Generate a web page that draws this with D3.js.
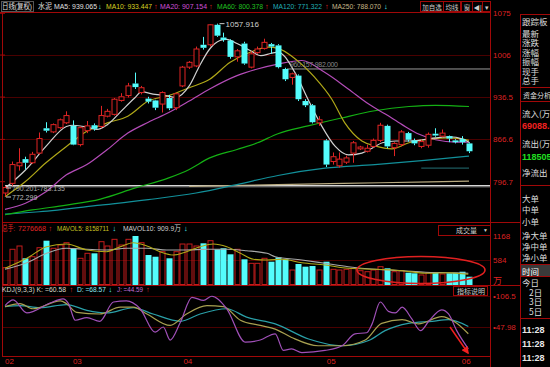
<!DOCTYPE html>
<html><head><meta charset="utf-8">
<script src="https://cdn.jsdelivr.net/npm/d3@7"></script>
<style>
body{margin:0;background:#000;}
svg{display:block;font-family:"Liberation Sans","Noto Sans CJK SC",sans-serif;}
</style></head>
<body><svg id="chart" width="550" height="367"></svg>
<script>
// daily candles
const opens  = [778,794,823,834,828,844,885,879,886,894,889,858,881,890,888,905,908,931,939,959,944,934,931,925,935,919,955,986,988,1023,1023,1056,1035,1030,1003,1025,986,1010,1017,1024,1022,983,969,972,930,923,894,865,830,823,829,844,851,847,855,865,889,853,858,877,865,855,857,876,872,872,865,867,860];
const highs  = [790,830,852,838,846,878,895,893,901,913,898,888,897,893,922,917,935,943,960,977,955,937,932,946,940,944,988,996,1020,1036,1057,1057.9,1043,1032,1016,1028,1012,1020,1033,1026,1024,985,977,974,933,925,905,867,845,845,840,864,856,858,868,894,891,862,882,879,868,866,878,885,883,873,867,872,862];
const lows   = [772.3,790,815,817,826,842,878,877,884,892,857,855,877,881,885,903,906,929,936,950,941,926,915,911,915,915,953,983,986,1015,1020,1036,1028,1000,995,990,984,1008,1015,1008,984,963,957,930,920,893,889,821,825,820,826,828,849,845,853,862,852,839,855,863,857,852,853,871,870,862,860,858,844];
const closes = [787,825,828,828,842,868,881,891,899,906,858,886,889,884,906,913,933,937,955,953,952,929,919,944,918,942,986,994,1016,1018,1056,1038,1031,1003,1013,992,1008,1016,1027,1020,986,966,975,933,923,895,899,825,838,834,836,861,854,852,865,890,855,860,879,866,860,863,875,873,877,868,862,862,847];
const volumes = [405,848,927,631,669,886,1055,872,951,1007,872,631,751,751,1031,927,1088,951,1088,1168,1007,710,669,790,631,790,975,975,927,992,1055,848,872,727,848,607,510,510,631,549,655,607,349,494,429,445,349,549,366,349,366,390,332,308,349,429,390,308,332,284,270,229,284,284,253,270,284,308,188];

// moving averages as [bar index, value]
const ma5Pts   = [[0,786],[3,816],[6,855],[9,888],[10,890],[12,887],[13.5,883],[15,891],[17,913],[19,935],[20,945],[22,941],[23.5,939],[25,936],[27,955],[28.5,988],[30,1016],[31.5,1030],[32.5,1032],[34,1025],[36,1013],[37.5,1005],[39,1009],[40,1011],[42.5,977],[44.4,933],[46.4,889],[48.4,855],[50.3,841],[52.3,844],[53.8,852],[55.3,861],[57.3,864],[59.2,864],[61.2,866],[63.1,869],[65.1,871],[67.1,867],[68,862]];
const ma10Pts  = [[0,772],[3,797],[6,828],[9,855],[12,880],[15,894],[18,905],[21,930],[24,939],[27,952],[30,966],[33,994],[36,1011],[38.6,1019],[40,1017],[42.5,1000],[45.4,969],[47.9,933],[49.8,894],[52.3,864],[54.2,856],[56.7,851],[59.2,861],[62.2,867],[65.1,869],[68,865]];
const ma20Pts  = [[0,751],[3,761],[6,780],[9,808],[12,825],[15,850],[18,877],[21,895],[24,911],[27,930],[30,950],[34,972],[37,983],[40,991],[43.5,997],[46.9,977],[50.3,950],[53.3,925],[55.8,908],[58.2,891],[60.7,875],[63.1,866],[66.1,862],[68,862]];
const ma60Pts  = [[0,742],[4,750],[9,758],[14,768],[19,786],[24,803],[27,817],[30,836],[34,850],[37,861],[40,876],[44.4,889],[49.3,902],[54.2,914],[59.2,921],[63.1,923],[68,921]];
const ma120Pts = [[0,743],[5,747],[14,758],[21,767],[28,778],[34,792],[40,807],[46.9,819],[54.2,825],[61.5,832],[68,839]];
const ma250Pts = [[27,789],[40,792],[55,795],[68,797.5]];

const volMa5Pts  = [[0,390],[3.2,631],[6.1,910],[9,975],[12,831],[14.9,790],[16.9,910],[18.8,1007],[20.8,927],[22.7,790],[24.7,710],[26.6,790],[28.6,910],[30.5,975],[32.5,910],[34.5,751],[36.4,607],[38.4,590],[40.6,607],[43.5,525],[46.9,470],[50.3,390],[54.3,366],[58.2,332],[61.6,270],[65,284],[67.9,246]];
const volMa10Pts = [[0,366],[3.2,525],[6.1,751],[9,872],[12,848],[14.9,831],[17.8,872],[20.8,872],[23.7,831],[26.6,831],[29.6,848],[32.5,848],[35.4,814],[38.4,751],[39.6,669],[43.5,590],[46.9,510],[50.3,429],[54.3,366],[58.2,332],[61.6,294],[65,284],[67.9,270]];

const kPts = [[0,86],[2.2,92],[4.1,82],[8.1,97],[9,92],[10.5,75],[13.9,72],[16.9,85],[18.8,85],[20.8,72],[24.2,50],[26.6,72],[29.6,88],[32,86],[34.5,60],[37.4,50],[39.6,43],[42,27],[45.9,11],[49.4,11],[52.8,22],[55.2,54],[58.2,61],[60.6,53],[64,67],[66,56],[67.9,34]];
const dPts = [[0,86],[2.2,88],[5.1,84],[9,90],[12,79],[14.9,74],[18.8,84],[21.7,72],[25.7,58],[28.6,72],[32.5,82],[35.4,66],[39.6,53],[44.5,24],[49.4,11],[53.3,21],[55.7,40],[59.1,54],[62.6,58],[65,61],[67.9,48]];
const jPts = [[0,88],[1.2,99],[3.2,74],[6.6,93],[8.5,101],[9.3,92],[10.3,60],[12,65],[13.9,58],[15.9,95],[17.8,97],[19.8,82],[22,37],[23.2,47],[24.2,22],[25.7,56],[27.4,104],[29.1,98],[30.3,106],[32.5,82],[35.2,18],[37.4,22],[39.6,34],[40.8,2],[42,5],[43.5,-2],[46.9,2],[49.4,11],[51.3,34],[53,36],[53.8,53],[55,95],[56.2,77],[57.2,74],[58.2,85],[59.6,63],[60.9,40],[62.1,58],[64,80],[65,72],[66.2,40],[67.9,5]];

const priceTicks = [1075, 1006, 936.5, 866.6, 796.7];
const volTicks = [1168, 584];
const kdjTicks = [106.5, 47.98];
const monthLabels = ["02", "03", "04", "05", "06"];
const monthIdx = [0, 10.6, 26.8, 47.8, 67.6];

const svg = d3.select("#chart");
const RED = "#e02424", CYAN = "#54fcfc", FRAME = "#a00808", GRID = "#4a0000";

svg.append("rect").attr("width", 550).attr("height", 367).attr("fill", "#000");

const x = d3.scaleLinear().domain([0, 68]).range([5, 469]);
const y = d3.scaleLinear().domain([796.7, 1075]).range([181.7, 13.3]);
const yv = d3.scaleLinear().domain([0, 1168]).range([284.5, 236]);
const yk = d3.scaleLinear().domain([47.98, 106.5]).range([326.5, 296]);

// grid
const grid = svg.append("g").attr("stroke", GRID).attr("stroke-width", 1);
priceTicks.slice(1, 4).forEach(t => grid.append("line").attr("x1", 3).attr("x2", 490).attr("y1", Math.round(y(t)) + .5).attr("y2", Math.round(y(t)) + .5));
grid.append("line").attr("x1", 3).attr("x2", 490).attr("y1", Math.round(yv(584)) + .5).attr("y2", Math.round(yv(584)) + .5);
kdjTicks.forEach(t => grid.append("line").attr("x1", 3).attr("x2", 490).attr("y1", Math.round(yk(t)) + .5).attr("y2", Math.round(yk(t)) + .5));

// frames
const fr = svg.append("g").attr("stroke", FRAME).attr("stroke-width", 1).attr("fill", "none");
[[2.5, 12, 2.5, 357], [490.5, 12, 490.5, 367], [520.5, 14, 520.5, 367],
 [0, 12.5, 490, 12.5], [2, 222.5, 520, 222.5], [2, 285.5, 520, 285.5], [2, 356.5, 490, 356.5]]
  .forEach(l => fr.append("line").attr("x1", l[0]).attr("y1", l[1]).attr("x2", l[2]).attr("y2", l[3]));
priceTicks.forEach(t => fr.append("line").attr("x1", 0).attr("x2", 5).attr("y1", y(t)).attr("y2", y(t)));

// clip for main panel
svg.append("clipPath").attr("id", "mainClip").append("rect").attr("x", 3).attr("y", 13).attr("width", 487).attr("height", 209);
const main = svg.append("g").attr("clip-path", "url(#mainClip)");

// drawn horizontal lines
main.append("line").attr("x1", 5).attr("x2", 490).attr("y1", y(790.2)).attr("y2", y(790.2)).attr("stroke", "#d8d8d8").attr("stroke-width", 1.2);
main.append("line").attr("x1", 5).attr("x2", 490).attr("y1", y(788.2)).attr("y2", y(788.2)).attr("stroke", "#8a8a8a").attr("stroke-width", 1);
main.append("line").attr("x1", 287).attr("x2", 490).attr("y1", y(983)).attr("y2", y(983)).attr("stroke", "#9a9a9a").attr("stroke-width", 1);
main.append("line").attr("x1", x(61)).attr("x2", x(68)).attr("y1", y(819)).attr("y2", y(819)).attr("stroke", "#1c5a5e").attr("stroke-width", 1.2);

const line = d3.line().x(d => x(d[0])).y(d => y(d[1])).curve(d3.curveMonotoneX);
[[ma250Pts, "#b8aa80"], [ma120Pts, "#12909a"], [ma60Pts, "#14b014"], [ma20Pts, "#b44cb8"], [ma10Pts, "#b0a818"], [ma5Pts, "#d0d0d0"]]
  .forEach(s => main.append("path").attr("d", line(s[0])).attr("fill", "none").attr("stroke", s[1]).attr("stroke-width", 1.2));

// candles
const idx = d3.range(opens.length);
const up = i => closes[i] >= opens[i];
const cg = main.append("g");
idx.forEach(i => {
  const c = up(i) ? RED : CYAN, cx = Math.round(x(i)) + .5;
  const top = Math.max(opens[i], closes[i]), bot = Math.min(opens[i], closes[i]);
  cg.append("line").attr("x1", cx).attr("x2", cx).attr("y1", y(highs[i])).attr("y2", y(top)).attr("stroke", c);
  cg.append("line").attr("x1", cx).attr("x2", cx).attr("y1", y(bot)).attr("y2", y(lows[i])).attr("stroke", c);
  const h = Math.max(1, y(bot) - y(top));
  if (up(i)) cg.append("rect").attr("x", cx - 2.5).attr("y", y(top)).attr("width", 5).attr("height", h).attr("fill", "#000").attr("stroke", c);
  else cg.append("rect").attr("x", cx - 3).attr("y", y(top)).attr("width", 6).attr("height", h).attr("fill", c);
});

// annotations
const hiI = highs.indexOf(d3.max(highs));
main.append("line").attr("x1", x(hiI) + 3).attr("x2", x(hiI) + 8).attr("y1", y(highs[hiI])).attr("y2", y(highs[hiI])).attr("stroke", "#ccc");
main.append("text").attr("x", x(hiI) + 9).attr("y", y(highs[hiI]) + 3).attr("fill", "#cfcfcf").attr("font-size", 8).text("1057.916");
main.append("text").attr("x", 290).attr("y", y(983) - 2).attr("fill", "#8a8a8a").attr("font-size", 7).attr("textLength", 48).text("960.157-982.000");
main.append("line").attr("x1", 6).attr("x2", 11).attr("y1", 188).attr("y2", 188).attr("stroke", "#ccc");
main.append("text").attr("x", 12).attr("y", 190.5).attr("fill", "#a8a8a8").attr("font-size", 7).attr("textLength", 53).text("790.201-783.135");
main.append("line").attr("x1", 6).attr("x2", 11).attr("y1", 197).attr("y2", 197).attr("stroke", "#ccc");
main.append("text").attr("x", 12).attr("y", 199.5).attr("fill", "#bdbdbd").attr("font-size", 7).text("772.299");

// price axis labels
svg.append("g").selectAll("text").data(priceTicks).join("text")
  .attr("x", 493).attr("y", d => y(d) + 3).attr("fill", "#d22").attr("font-size", 8).text(d => d);

// volume panel
const vg = svg.append("g");
idx.forEach(i => {
  const cx = Math.round(x(i)) + .5, top = yv(volumes[i]);
  if (up(i)) vg.append("rect").attr("x", cx - 2.5).attr("y", top).attr("width", 5).attr("height", yv(0) - top).attr("fill", "none").attr("stroke", "#c41c1c");
  else vg.append("rect").attr("x", cx - 3).attr("y", top).attr("width", 6).attr("height", yv(0) - top + .5).attr("fill", CYAN);
});
const vline = d3.line().x(d => x(d[0])).y(d => yv(d[1])).curve(d3.curveMonotoneX);
vg.append("path").attr("d", vline(volMa10Pts)).attr("fill", "none").attr("stroke", "#a8a8a8").attr("stroke-width", 1.1);
vg.append("path").attr("d", vline(volMa5Pts)).attr("fill", "none").attr("stroke", "#b0a818").attr("stroke-width", 1.1);
svg.append("g").selectAll("text").data(volTicks).join("text")
  .attr("x", 493).attr("y", d => yv(d) + 3).attr("fill", "#d22").attr("font-size", 8).text(d => d);
svg.append("text").attr("x", 493).attr("y", 284).attr("fill", "#d22").attr("font-size", 9).text("万");
svg.append("ellipse").attr("cx", 421).attr("cy", 270).attr("rx", 64).attr("ry", 13.5).attr("fill", "none").attr("stroke", "#e02020").attr("stroke-width", 1.6);

// legend helper: [text, colour, x, width]
function legend(yPos, items) {
  const t = svg.append("text").attr("y", yPos).attr("font-size", 7.5);
  items.forEach(s => {
    const sp = t.append("tspan").attr("x", s[2]).attr("fill", s[1]).text(s[0]);
    if (s[3]) sp.attr("textLength", s[3]).attr("lengthAdjust", "spacingAndGlyphs");
  });
}

// volume legend
legend(231, [["总手:", RED, 2, 13], ["7276668", RED, 18, 28], ["↑", RED, 48.5], ["MAVOL5: 8158711", "#c8c020", 57, 52], ["↓", CYAN, 112.5], ["MAVOL10: 909.9万", "#d0d0d0", 123, 58], ["↓", CYAN, 184]]);
svg.append("rect").attr("x", 438.5).attr("y", 225.5).attr("width", 52).attr("height", 10).attr("fill", "#000").attr("stroke", FRAME);
svg.append("text").attr("x", 456).attr("y", 233).attr("fill", "#ccc").attr("font-size", 7).text("成交量");
svg.append("text").attr("x", 483).attr("y", 232).attr("fill", "#ccc").attr("font-size", 5).text("▼");

// KDJ panel
const kline = d3.line().x(d => x(d[0])).y(d => yk(d[1])).curve(d3.curveMonotoneX);
svg.append("clipPath").attr("id", "kClip").append("rect").attr("x", 3).attr("y", 286).attr("width", 487).attr("height", 70);
const kg = svg.append("g").attr("clip-path", "url(#kClip)");
[[dPts, "#2aa0a8"], [kPts, "#a8a050"], [jPts, "#a050b8"]]
  .forEach(s => kg.append("path").attr("d", kline(s[0])).attr("fill", "none").attr("stroke", s[1]).attr("stroke-width", 1.2));
svg.append("g").selectAll("text").data(kdjTicks).join("text")
  .attr("x", 493).attr("y", d => yk(d) + 3).attr("fill", "#d22").attr("font-size", 8).text(d => "•" + d);
legend(292, [["KDJ(9,3,3) K: =60.58", "#d8d8c8", 2, 64], ["↑", RED, 69.5], ["D: =68.57", "#8fe8f0", 77, 29], ["↓", CYAN, 108.5], ["J: =44.59", "#c070d8", 117, 26], ["↑", RED, 146]]);
svg.append("rect").attr("x", 453.5).attr("y", 286.5).attr("width", 34).attr("height", 9).attr("fill", "#000").attr("stroke", FRAME);
svg.append("text").attr("x", 457).attr("y", 294).attr("fill", "#ccc").attr("font-size", 7).text("指标说明");
// red arrow
svg.append("defs").append("marker").attr("id", "arr").attr("viewBox", "0 0 10 10").attr("refX", 8).attr("refY", 5)
  .attr("markerWidth", 5).attr("markerHeight", 5).attr("orient", "auto")
  .append("path").attr("d", "M0,0L10,5L0,10z").attr("fill", "#f02020");
svg.append("line").attr("x1", 450).attr("y1", 327).attr("x2", 468).attr("y2", 353).attr("stroke", "#f02020").attr("stroke-width", 1.5).attr("marker-end", "url(#arr)");

// month labels
svg.append("g").selectAll("text").data(monthLabels).join("text")
  .attr("x", (d, i) => x(monthIdx[i])).attr("y", 364).attr("text-anchor", (d, i) => i === 0 ? "start" : "middle")
  .attr("fill", "#d22").attr("font-size", 8).text(d => d);

// top legend
legend(9, [["日线(复权)", "#e0e0e0", 2, 30], ["水泥", "#e0e0e0", 38, 14], ["MA5: 939.065", "#e0e0e0", 54, 43], ["↓", CYAN, 98],
 ["MA10: 933.447", "#d8d020", 106, 46], ["↑", RED, 154], ["MA20: 907.154", "#d050d8", 160, 47], ["↑", RED, 209],
 ["MA60: 800.378", "#20c020", 217, 46], ["↑", RED, 265], ["MA120: 771.322", "#20b0b8", 273, 49], ["↑", RED, 325],
 ["MA250: 788.070", "#c8b888", 332, 49], ["↓", CYAN, 384]]);
svg.append("rect").attr("x", 1.5).attr("y", 1.5).attr("width", 32).attr("height", 10).attr("fill", "none").attr("stroke", "#555");
[[420, 23, "加自选"], [443, 17, "均线"], [461, 11, "窗"], [472, 10, "◀|"], [482, 8, "▾"]].forEach(b => {
  svg.append("rect").attr("x", b[0] + .5).attr("y", 1.5).attr("width", b[1]).attr("height", 10).attr("fill", "#000").attr("stroke", FRAME);
  svg.append("text").attr("x", b[0] + b[1] / 2 + .5).attr("y", 9.5).attr("text-anchor", "middle").attr("fill", "#ccc").attr("font-size", 6.5).text(b[2]);
});

// right info panel
const rp = svg.append("g").attr("font-family", "'Noto Sans CJK SC',sans-serif").attr("font-size", 8.5);
[[14.5], [87.5], [101.5], [185.5], [264.5], [276.5], [318.5]].forEach(l =>
  rp.append("line").attr("x1", 520).attr("x2", 550).attr("y1", l[0]).attr("y2", l[0]).attr("stroke", FRAME));
rp.append("rect").attr("x", 521).attr("y", 265).attr("width", 29).attr("height", 11).attr("fill", "#3a3a3a");
const rows = [["跟踪板", 25], ["最新", 36.5], ["涨跌", 45.5], ["涨幅", 56], ["振幅", 65], ["现手", 74.5], ["总手", 84],
  ["流入(万", 116.5], ["流出(万", 147], ["净流出", 175.5], ["大单", 202], ["中单", 213], ["小单", 225],
  ["净大单", 238.5], ["净中单", 249.5], ["净小单", 260.5], ["时间", 274.5], ["今日", 285.5]];
rows.forEach(r => rp.append("text").attr("x", 522).attr("y", r[1]).attr("fill", r[0] === "时间" ? "#fff" : "#ddd").text(r[0]));
rp.append("text").attr("x", 523).attr("y", 98).attr("fill", "#ddd").attr("font-size", 7).text("资金分析");
rp.append("text").attr("x", 522).attr("y", 129).attr("fill", "#f02020").attr("font-weight", "bold").attr("font-size", 9).attr("font-family", "'Liberation Sans'").text("69088.0");
rp.append("text").attr("x", 522).attr("y", 160).attr("fill", "#20e020").attr("font-weight", "bold").attr("font-size", 9).attr("font-family", "'Liberation Sans'").text("118505");
[["2日", 295.5], ["3日", 305], ["5日", 315]].forEach(r => rp.append("text").attr("x", 529).attr("y", r[1]).attr("fill", "#ddd").attr("font-size", 8.5).text(r[0]));
[333, 347, 361].forEach(v => rp.append("text").attr("x", 522).attr("y", v).attr("fill", "#e8e8e8").attr("font-weight", "bold").attr("font-size", 9).attr("font-family", "'Liberation Sans'").text("11:28"));
</script></body></html>
